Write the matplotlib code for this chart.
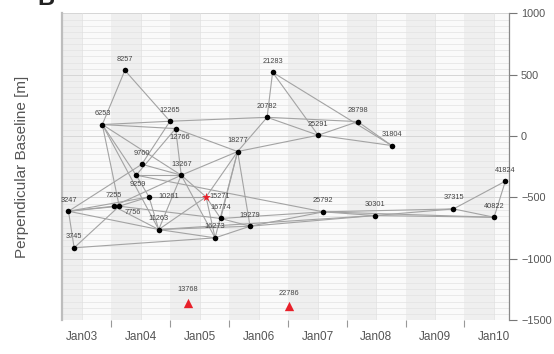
import numpy as np
import pandas as pd
import matplotlib
matplotlib.use("Agg")
import matplotlib.pyplot as plt
import matplotlib.dates as mdates

plt.rcParams['font.family'] = ['Liberation Sans', 'DejaVu Sans']

# orbit numbers, acquisition dates and perpendicular baselines [m]
orbits = [3247, 3745, 6253, 7255, 7756, 8257, 9259, 9760, 10261, 11263,
          12265, 12766, 13267, 15271, 16273, 16774, 18277, 19279, 20782,
          21283, 25291, 25792, 28798, 30301, 31804, 37315, 40822, 41824]
dates = ['2002-10-08', '2002-11-12', '2003-05-06', '2003-07-15', '2003-08-19',
         '2003-09-23', '2003-12-02', '2004-01-06', '2004-02-20', '2004-04-20',
         '2004-06-29', '2004-08-03', '2004-09-07', '2005-02-08', '2005-04-05',
         '2005-05-10', '2005-08-23', '2005-11-08', '2006-02-22', '2006-03-28',
         '2007-01-05', '2007-02-06', '2007-09-08', '2007-12-22', '2008-04-05',
         '2009-04-24', '2010-01-01', '2010-03-12']
baselines = [-613, -911, 94, -572, -572, 536, -319, -230, -496, -762,
             121, 61, -319, -496, -830, -672, -126, -735, 153,
             520, 7, -618, 118, -648, -77, -594, -662, -368]

# master (star) and rejected acquisitions (triangles)
master = 15271
rejected_orbits = [13768, 22786]
rejected_dates = ['2004-10-18', '2006-07-06']
rejected_baselines = [-1360, -1387]

# interferometric pairs
pairs = [(8257, 6253), (8257, 12265), (6253, 12265), (6253, 12766),
         (12265, 20782), (12766, 18277), (12766, 13267), (12265, 9760),
         (12766, 9259), (20782, 21283), (20782, 18277), (20782, 28798),
         (20782, 25291), (21283, 25291), (21283, 31804), (25291, 28798),
         (25291, 31804), (28798, 31804), (18277, 25291), (18277, 13267),
         (18277, 15271), (18277, 16774), (18277, 16273), (18277, 19279),
         (13267, 6253), (13267, 9760), (13267, 9259), (13267, 15271),
         (13267, 16273), (13267, 11263), (13267, 7255), (6253, 9259),
         (6253, 7756), (6253, 11263), (3247, 3745), (3247, 7255),
         (3247, 7756), (3247, 10261), (3247, 11263), (3247, 9760),
         (3745, 7756), (3745, 16273), (7255, 7756), (7756, 10261),
         (7756, 16774), (7255, 11263), (10261, 15271), (10261, 11263),
         (10261, 9259), (11263, 16273), (11263, 19279), (11263, 30301),
         (15271, 16774), (15271, 16273), (15271, 11263), (16774, 19279),
         (16273, 19279), (19279, 25792), (19279, 30301), (16774, 25792),
         (9259, 25792), (25792, 30301), (25792, 37315), (30301, 37315),
         (30301, 40822), (37315, 40822), (37315, 41824), (40822, 41824),
         (25792, 40822)]

# label offsets in pixels for the labels that are not simply above the point
label_offsets = {12766: (4, -9), 9259: (2, -9), 7756: (14, -6),
                 10261: (20, 0), 15271: (14, 0)}

t = pd.to_datetime(dates)
pos = {o: (d, b) for o, d, b in zip(orbits, t, baselines)}
t_rej = pd.to_datetime(rejected_dates)

fig = plt.figure(figsize=(5.54, 3.54), dpi=100)
ax = fig.add_axes([0.112, 0.096, 0.806, 0.866])
ax.set_facecolor('#fafafa')

xmin, xmax = pd.Timestamp('2002-08-29'), pd.Timestamp('2010-04-01')
ax.set_xlim(xmin, xmax)
ax.set_ylim(-1500, 1000)

# alternating background bands (second half of each year shaded)
for yr in range(2002, 2011):
    ax.axvspan(pd.Timestamp(f'{yr}-07-01'), pd.Timestamp(f'{yr + 1}-01-01'),
               color='#efefef', lw=0, zorder=0)
for y in np.arange(-1500, 1001, 50):
    ax.axhline(y, color='#e3e3e3', lw=0.5, zorder=0.5)
for y in np.arange(-1500, 1001, 500):
    ax.axhline(y, color='#d6d6d6', lw=0.7, zorder=0.5)
for yr in range(2003, 2011):
    ax.axvline(pd.Timestamp(f'{yr}-01-01'), color='#e0e0e0', lw=0.5, zorder=0.5)

for a, b in pairs:
    (xa, ya), (xb, yb) = pos[a], pos[b]
    ax.plot([xa, xb], [ya, yb], color='#a3a3a3', lw=0.8, zorder=1)

normal = [o for o in orbits if o != master]
ax.scatter([pos[o][0] for o in normal], [pos[o][1] for o in normal],
           s=16, color='black', zorder=3, lw=0)
ax.scatter([pos[master][0]], [pos[master][1]], marker='*', s=45,
           color='#e8202a', zorder=3, lw=0)
ax.scatter(t_rej, rejected_baselines, marker='^', s=45, color='#e8202a',
           zorder=3, lw=0)

for o in orbits:
    dx, dy = label_offsets.get(o, (0, 11))
    ax.annotate(str(o), pos[o], xytext=(dx, dy), textcoords='offset pixels',
                ha='center', va='center', fontsize=5.3, color='#444444', zorder=4)
for o, d, b in zip(rejected_orbits, t_rej, rejected_baselines):
    ax.annotate(str(o), (d, b), xytext=(0, 13), textcoords='offset pixels',
                ha='center', va='center', fontsize=5.3, color='#444444', zorder=4)

# axes styling
ax.yaxis.tick_right()
ax.set_yticks([-1500, -1000, -500, 0, 500, 1000])
ax.tick_params(axis='y', direction='out', length=6, width=0.8, color='#777777',
               labelsize=7.8, labelcolor='#555555', pad=3)
ax.set_ylabel('Perpendicular Baseline [m]', fontsize=11, color='#555555')
ax.yaxis.set_label_position('left')
ax.yaxis.set_label_coords(-0.075, 0.5)

ax.xaxis.set_major_locator(mdates.YearLocator(month=1))
ax.xaxis.set_major_formatter(mdates.DateFormatter('Jan%y'))
ax.xaxis.set_minor_locator(mdates.YearLocator(month=7))
ax.tick_params(axis='x', which='major', length=0, labelsize=8.5,
               labelcolor='#555555', pad=8)
ax.tick_params(axis='x', which='minor', length=5, width=0.8, color='#999999')

for s in ['top', 'bottom']:
    ax.spines[s].set_visible(False)
ax.spines['left'].set_color('#bdbdbd')
ax.spines['left'].set_linewidth(1.6)
ax.spines['right'].set_color('#888888')
ax.spines['right'].set_linewidth(0.9)

fig.text(0.068, 0.972, 'B', fontsize=17, fontweight='bold', color='#222222',
         va='bottom', ha='left')

fig.savefig('out.png', dpi=100)
